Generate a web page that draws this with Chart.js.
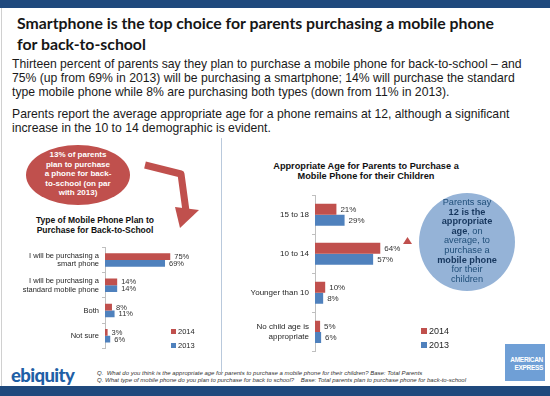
<!DOCTYPE html>
<html lang="en">
<head>
    <meta charset="utf-8">
    <title>Smartphone is the top choice for parents</title>
    <script src="https://cdn.jsdelivr.net/npm/chart.js@4.4.1/dist/chart.umd.min.js"></script>
    <style>
        body { margin: 0; width: 550px; height: 396px; position: relative; overflow: hidden; background: #fff; font-family: "Liberation Sans", Arial, sans-serif; color: #1a1a1a; }
        .abs { position: absolute; }
        .band { position: absolute; left: 0; width: 550px; background: #1f497d; }
        #title { left: 17px; top: 12px; font-family: Lato, sans-serif; font-weight: 700; font-size: 15.8px; line-height: 21px; color: #161616; white-space: nowrap; }
        #intro { left: 12px; top: 57px; font-size: 12.2px; line-height: 14px; white-space: nowrap; }
        #intro p { margin: 0 0 8px 0; }
        .ctitle { font-weight: 700; text-align: center; color: #111; }
        .legend { font-size: 7.5px; color: #262626; }
        .legend i { display: inline-block; width: 5px; height: 5px; margin-right: 2px; vertical-align: 0; }
        #bubble { left: 26px; top: 145px; width: 104px; height: 60px; border-radius: 50%; background: #c0504d; }
        #bubbleText { left: 26px; top: 150px; width: 104px; text-align: center; color: #fff; font-weight: 700; font-size: 8px; line-height: 9.6px; }
        #circle { left: 419px; top: 193px; width: 96px; height: 98px; border-radius: 50%; background: #95b3d7; }
        #circleText { left: 419px; top: 198px; width: 96px; text-align: center; color: #1f4e79; font-size: 9.2px; line-height: 9.6px; }
        #circleText b { color: #17375e; }
        #notes { left: 97px; top: 370px; font-size: 6px; line-height: 7px; font-style: italic; color: #333; white-space: nowrap; }
        #logo { left: 11px; top: 366px; font-family: Lato, sans-serif; font-weight: 900; font-size: 18.5px; line-height: 18px; letter-spacing: -0.6px; color: #1f5fa6; }
        #amex { left: 505px; top: 344px; width: 40px; height: 37px; background: #6f9fd6; color: #fff; font-size: 6.5px; font-weight: 700; line-height: 8px; text-align: right; box-sizing: border-box; padding: 12px 2px 0 0; letter-spacing: -0.3px; }
    </style>
</head>
<body>
<script>
    // left chart: type of phone plan
    const typeLabels = [['I will be purchasing a', 'smart phone'], ['I will be purchasing a', 'standard mobile phone'], 'Both', 'Not sure'];
    const type2014 = [75, 14, 8, 3];
    const type2013 = [69, 14, 11, 6];

    // right chart: appropriate age
    const ageLabels = ['15 to 18', '10 to 14', 'Younger than 10', ['No child age is', 'appropriate']];
    const age2014 = [21, 64, 10, 5];
    const age2013 = [29, 57, 8, 6];

    const years = ['2014', '2013'];
    const RED = '#c0504d';
    const BLUE = '#4f81bd';
</script>

<div class="band" style="top:0;height:8px"></div>
<div class="abs" style="left:1px;top:8px;width:1px;height:378px;background:#d0d0d0"></div>
<div class="abs" id="title">Smartphone is the top choice for parents purchasing a mobile phone<br>for back-to-school</div>
<div class="abs" id="intro">
    <p>Thirteen percent of parents say they plan to purchase a mobile phone for back-to-school – and<br>75% (up from 69% in 2013) will be purchasing a smartphone; 14% will purchase the standard<br>type mobile phone while 8% are purchasing both types (down from 11% in 2013).</p>
    <p>Parents report the average appropriate age for a phone remains at 12, although a significant<br>increase in the 10 to 14 demographic is evident.</p>
</div>

<div class="abs" style="left:221px;top:138px;width:1px;height:234px;background:#b9c9dc"></div>

<div class="abs" id="bubble"></div>
<div class="abs" id="bubbleText">13% of parents<br>plan to purchase<br>a phone for back-<br>to-school (on par<br>with 2013)</div>
<svg class="abs" style="left:0;top:0" width="550" height="396">
    <polyline points="145,165 181,174 186,211" fill="none" stroke="#c0504d" stroke-width="7" stroke-linejoin="round"/>
    <polygon points="175,207 199,210 180,228" fill="#c0504d"/>
    <polygon points="403,244 412,244 407.5,237" fill="#c0504d"/>
</svg>

<div class="abs ctitle" style="left:15px;top:216px;width:160px;font-size:8.5px;line-height:9.7px">Type of Mobile Phone Plan to<br>Purchase for Back-to-School</div>
<div class="abs" style="left:0;top:240px"><canvas id="typeChart" width="200" height="120"></canvas></div>
<div class="abs legend" style="left:171px;top:327px"><i style="background:#c0504d"></i>2014</div>
<div class="abs legend" style="left:171px;top:341px"><i style="background:#4f81bd"></i>2013</div>

<div class="abs ctitle" style="left:256px;top:162px;width:220px;font-size:9.2px;line-height:9.8px">Appropriate Age for Parents to Purchase a<br>Mobile Phone for their Children</div>
<div class="abs" style="left:222px;top:183px"><canvas id="ageChart" width="200" height="176"></canvas></div>
<div class="abs legend" style="left:421px;top:326px;font-size:9px"><i style="background:#c0504d;width:6px;height:6px"></i>2014</div>
<div class="abs legend" style="left:421px;top:340px;font-size:9px"><i style="background:#4f81bd;width:6px;height:6px"></i>2013</div>

<div class="abs" id="circle"></div>
<div class="abs" id="circleText">Parents say<br><b>12 is the</b><br><b>appropriate</b><br><b>age</b>, on<br>average, to<br>purchase a<br><b>mobile phone</b><br>for their<br>children</div>

<div class="abs" id="logo">ebiquity</div>
<div class="abs" id="notes">Q.&nbsp; What do you think is the appropriate age for parents to purchase a mobile phone for their children? Base: Total Parents<br>Q. What type of mobile phone do you plan to purchase for back to school?&nbsp;&nbsp;&nbsp; Base: Total parents plan to purchase phone for back-to-school</div>
<div class="band" style="top:386px;height:10px"></div>
<div class="abs" id="amex">AMERICAN<br>EXPRESS</div>

<script>
    /**
     * writes the value with a percent sign just after each bar
     */
    const valueLabels = {
        id: 'valueLabels',
        afterDatasetsDraw(chart, args, opts) {
            const ctx = chart.ctx;
            ctx.save();
            ctx.font = opts.size + 'px "Liberation Sans", Arial';
            ctx.fillStyle = '#333';
            ctx.textAlign = 'left';
            ctx.textBaseline = 'middle';
            chart.data.datasets.forEach(function (ds, i) {
                chart.getDatasetMeta(i).data.forEach(function (bar, j) {
                    ctx.fillText(ds.data[j] + '%', bar.x + opts.gap, bar.y + 0.5);
                });
            });
            ctx.restore();
        }
    };

    function makeChart(id, labels, d2014, d2013, axisWidth, fontSize, labelSize, padding, catPct) {
        return new Chart(document.getElementById(id), {
            type: 'bar',
            data: {
                labels: labels,
                datasets: [
                    { label: years[0], data: d2014, backgroundColor: RED },
                    { label: years[1], data: d2013, backgroundColor: BLUE }
                ]
            },
            options: {
                indexAxis: 'y',
                responsive: false,
                animation: false,
                layout: { padding: padding },
                datasets: { bar: { categoryPercentage: catPct, barPercentage: 1 } },
                scales: {
                    x: { display: false, min: 0, max: 100 },
                    y: {
                        afterFit: function (scale) { scale.width = axisWidth; },
                        grid: { drawOnChartArea: false, offset: true, tickLength: 3, color: '#bfbfbf' },
                        border: { color: '#bfbfbf' },
                        ticks: {
                            autoSkip: false,
                            padding: 3,
                            color: '#262626',
                            font: { family: '"Liberation Sans", Arial', size: fontSize, lineHeight: 1.15 }
                        }
                    }
                },
                plugins: {
                    legend: { display: false },
                    tooltip: { enabled: false },
                    valueLabels: { size: labelSize, gap: 4 }
                }
            },
            plugins: [valueLabels]
        });
    }

    makeChart('typeChart', typeLabels, type2014, type2013, 105, 7.5, 7.5, { top: 3, right: 8, bottom: 2, left: 0 }, 0.53);
    makeChart('ageChart', ageLabels, age2014, age2013, 93, 8, 8, { top: 3, right: 5, bottom: 3, left: 0 }, 0.565);
</script>
</body>
</html>
